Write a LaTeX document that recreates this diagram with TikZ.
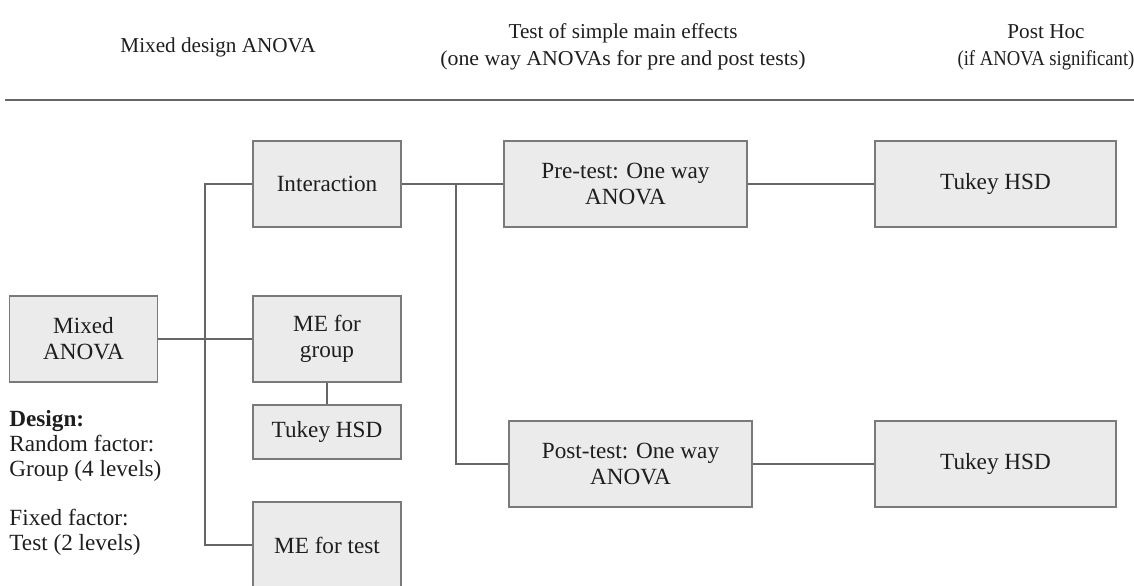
\documentclass[tikz,border=0pt]{standalone}
\usepackage{fontspec}
\setmainfont{Liberation Serif}
\usetikzlibrary{positioning}
\definecolor{boxfill}{HTML}{EBEBEB}
\definecolor{boxline}{HTML}{7A7A7A}
\definecolor{wire}{HTML}{666666}
\definecolor{ink}{HTML}{1E1E1E}
\begin{document}
\begin{tikzpicture}[x=0.5pt,y=-0.5pt,
  stage/.style={draw=boxline, fill=boxfill, line width=0.75pt, text=ink, inner sep=0pt,
    align=center, font=\fontsize{11.6}{13}\selectfont, minimum width=74pt, minimum height=43pt},
  widestage/.style={stage, minimum width=121.5pt},
  head/.style={text=ink, align=center, font=\fontsize{10.6}{13.5}\selectfont},
  link/.style={draw=wire, line width=0.75pt}]
\useasboundingbox (0,0) rectangle (1134,585);
\node[head] (hmixed) at (218,47) {Mixed design ANOVA};
\node[head] (hsimple) at (623,47) {Test of simple main effects\\\scalebox{1.03}[1]{(one way ANOVAs for pre and post tests)}};
\node[head] (hpost) at (1046,47) {Post Hoc\\\scalebox{0.88}[1]{(if ANOVA significant)}};
\draw[wire, line width=0.75pt] (5,100) -- (1134,100);
\node[stage] (mixed) at (83.5,339) {Mixed\\ANOVA};
\node[stage] (inter) at (327,184) {Interaction};
\node[stage] (megroup) at (327,339) {ME for\\group};
\node[stage, minimum height=27pt] (tukeyg) at (327,432) {Tukey HSD};
\node[stage] (metest) at (327,545) {ME for test};
\node[widestage] (pre) at (625.5,184) {Pre-test: One way\\ANOVA};
\node[widestage] (post) at (630.5,464) {Post-test: One way\\ANOVA};
\node[widestage, minimum width=120.5pt] (tukeypre) at (995.5,184) {Tukey HSD};
\node[widestage, minimum width=120.5pt] (tukeypost) at (995.5,464) {Tukey HSD};
\node[text=ink, align=left, anchor=north west, inner sep=0pt,
  font=\fontsize{11.6}{12.4}\selectfont] (design) at (9,410)
  {\textbf{Design:}\\Random factor:\\Group (4 levels)\\[12.4pt]Fixed factor:\\Test (2 levels)};
\coordinate (lbus) at (205,0);
\coordinate (rbus) at (456,0);
\draw[link] (inter.west) -- (inter.west -| lbus) |- (metest.west);
\draw[link] (mixed) -- (megroup);
\draw[link] (megroup) -- (tukeyg);
\draw[link] (inter) -- (pre);
\draw[link] (inter.east -| rbus) |- (post.west);
\draw[link] (pre) -- (tukeypre);
\draw[link] (post) -- (tukeypost);
\end{tikzpicture}
\end{document}
